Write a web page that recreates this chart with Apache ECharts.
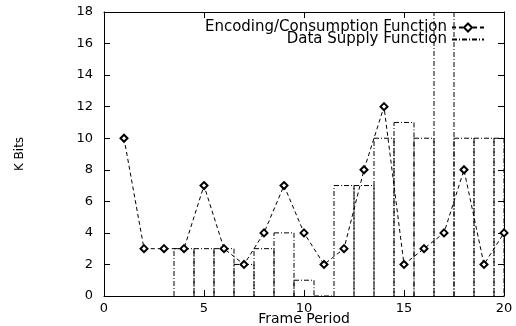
<!DOCTYPE html>
<html>
<head>
<meta charset="utf-8">
<script src="https://cdn.jsdelivr.net/npm/echarts@6/dist/echarts.min.js"></script>
<style>html,body{margin:0;padding:0;background:#fff;}#c{width:516px;height:326px;}</style>
</head>
<body>
<div id="c"></div>
<script>
var encX = [1,2,3,4,5,6,7,8,9,10,11,12,13,14,15,16,17,18,19,20];
var encY = [10,3,3,3,7,3,2,4,7,4,2,3,8,12,2,3,4,8,2,4];
var supX = [4,5,6,7,8,9,10,11,12,13,14,15,16,17,18,19,20];
var supY = [3,3,3,2,3,4,1,0,7,7,10,11,10,20,10,10,10];
var xTicks = [0,5,10,15,20];
var yTicks = [0,2,4,6,8,10,12,14,16,18];

var FONT = 'DejaVu Sans';
var chart = echarts.init(document.getElementById('c'), null, {renderer:'canvas'});
var xMin = xTicks[0], xMax = xTicks[xTicks.length-1];
var yMin = yTicks[0], yMax = yTicks[yTicks.length-1];

function axisCommon(showLabel){
  return {
    axisLine:{show:true, onZero:false, lineStyle:{color:'#000', width:1}},
    axisTick:{show:true, inside:true, length:6, lineStyle:{color:'#000'}},
    splitLine:{show:false},
    axisLabel:{show:showLabel, color:'#000', fontFamily:FONT, fontSize:13}
  };
}

var xb = axisCommon(true);
xb.type='value'; xb.min=xMin; xb.max=xMax; xb.interval=5; xb.position='bottom';
xb.axisLabel.margin=6;
xb.name='Frame Period'; xb.nameLocation='middle'; xb.nameGap=16; xb.nameMoveOverlap=false;
xb.nameTextStyle={color:'#000', fontFamily:FONT, fontSize:14, verticalAlign:'top'};
var xt = axisCommon(false);
xt.type='value'; xt.min=xMin; xt.max=xMax; xt.interval=5; xt.position='top';

var yl = axisCommon(true);
yl.type='value'; yl.min=yMin; yl.max=yMax; yl.interval=2; yl.position='left';
yl.axisLabel.margin=11;
yl.name='K Bits'; yl.nameLocation='middle'; yl.nameGap=78; yl.nameMoveOverlap=false;
yl.nameTextStyle={color:'#000', fontFamily:FONT, fontSize:12};
var yr = axisCommon(false);
yr.type='value'; yr.min=yMin; yr.max=yMax; yr.interval=2; yr.position='right';

var supData = supX.map(function(x,i){return [x, supY[i]];});
var encData = encX.map(function(x,i){return [x, encY[i]];});
var DASHDOT = [5,2,1,2];

function seg(a, b){
  return {type:'line', shape:{x1:a[0], y1:a[1], x2:b[0], y2:b[1]},
    style:{stroke:'#000', lineWidth:1, lineDash:DASHDOT}};
}

chart.setOption({
  animation:false,
  backgroundColor:'#fff',
  grid:{left:104, right:12, top:12, bottom:30, containLabel:false, outerBoundsMode:'none'},
  xAxis:[xb, xt],
  yAxis:[yl, yr],
  legend:{
    orient:'vertical', right:31, top:20, align:'right', padding:0,
    itemWidth:32, itemHeight:10, itemGap:-3,
    textStyle:{color:'#000', fontFamily:FONT, fontSize:15},
    data:[
      {name:'Encoding/Consumption Function'},
      {name:'Data Supply Function', itemStyle:{color:'rgba(0,0,0,0)', borderColor:'rgba(0,0,0,0)', borderWidth:0}}
    ]
  },
  series:[
    {
      name:'supplyBoxes', type:'custom', xAxisIndex:0, yAxisIndex:0,
      data:supData, silent:true,
      renderItem:function(params, api){
        var x = api.value(0), v = api.value(1);
        var l = Math.max(x-0.5, xMin), r = Math.min(x+0.5, xMax), t = Math.min(v, yMax);
        var children = [
          seg(api.coord([l,0]), api.coord([l,t])),
          seg(api.coord([r,t]), api.coord([r,0]))
        ];
        if (v <= yMax) children.push(seg(api.coord([l,t]), api.coord([r,t])));
        return {type:'group', children:children};
      },
      z:2
    },
    {
      name:'Encoding/Consumption Function', type:'line', data:encData,
      symbol:'emptyDiamond', symbolSize:7, showAllSymbol:true,
      itemStyle:{color:'#000', borderColor:'#000', borderWidth:1},
      lineStyle:{color:'#000', width:1, type:[4,3]},
      z:3
    },
    {
      name:'Data Supply Function', type:'line', data:[],
      symbol:'none', itemStyle:{color:'#000'},
      lineStyle:{color:'#000', width:1, type:DASHDOT}
    }
  ]
});
</script>
</body>
</html>
